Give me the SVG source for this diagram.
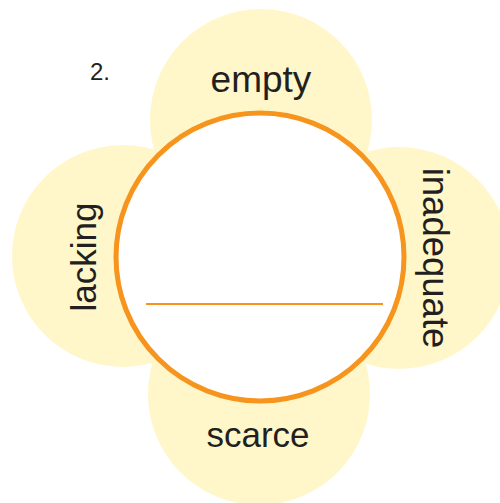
<svg xmlns="http://www.w3.org/2000/svg" width="500" height="503" viewBox="0 0 500 503">
<style>
.petal{fill:#FFF7C9;stroke:none}
.lbl{font-family:"Liberation Sans",Arial,sans-serif;fill:#231F20;text-anchor:middle}
</style>
<rect width="500" height="503" fill="#fff"/>
<g id="petal-top"><circle class="petal" cx="261" cy="120" r="111"/></g>
<g id="petal-left"><circle class="petal" cx="123" cy="256" r="111"/></g>
<g id="petal-right"><circle class="petal" cx="399" cy="258" r="111"/></g>
<g id="petal-bottom"><circle class="petal" cx="259" cy="394" r="111"/></g>
<g id="center"><circle cx="260" cy="257" r="144" fill="#fff" stroke="#F7941D" stroke-width="5"/></g>
<g id="connectors"><line x1="146" y1="304" x2="383" y2="304" stroke="#F7941D" stroke-width="2"/></g>
<g id="labels">
<text class="lbl" x="100" y="80" font-size="24">2.</text>
<text class="lbl" x="261" y="92" font-size="37">empty</text>
<text class="lbl" x="258" y="447" font-size="35">scarce</text>
<text class="lbl" font-size="35" transform="translate(96,257) rotate(-90)">lacking</text>
<text class="lbl" font-size="36.5" transform="translate(423,258) rotate(90)">inadequate</text>
</g>
</svg>
